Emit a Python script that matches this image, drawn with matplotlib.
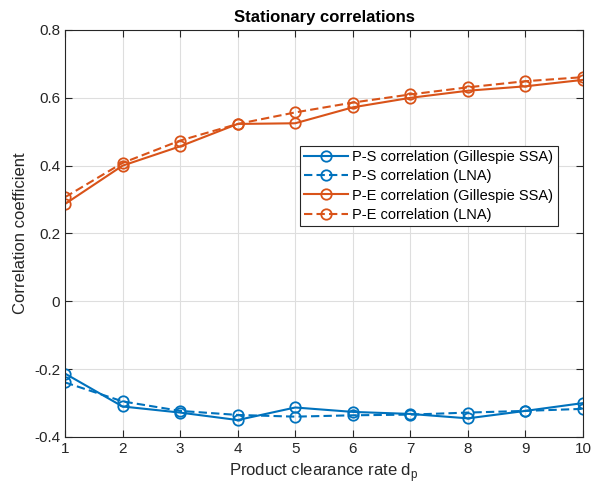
import numpy as np
import matplotlib
matplotlib.use('Agg')
import matplotlib.pyplot as plt

plt.rcParams['font.family'] = ['Liberation Sans', 'DejaVu Sans']

dp = [1, 2, 3, 4, 5, 6, 7, 8, 9, 10]
ps_ssa = [-0.213, -0.310, -0.328, -0.350, -0.313, -0.326, -0.332, -0.345, -0.323, -0.300]
ps_lna = [-0.239, -0.295, -0.323, -0.335, -0.340, -0.336, -0.334, -0.328, -0.323, -0.317]
pe_ssa = [0.287, 0.400, 0.457, 0.523, 0.525, 0.572, 0.600, 0.621, 0.634, 0.653]
pe_lna = [0.307, 0.408, 0.474, 0.523, 0.557, 0.586, 0.610, 0.631, 0.649, 0.661]

blue = (0, 0.447, 0.741)
orange = (0.85, 0.325, 0.098)

fig = plt.figure(figsize=(5.95, 4.94), dpi=100)
ax = fig.add_axes([65/595, 1 - 437/494, 518/595, 407/494])

mk = dict(marker='o', markersize=7.5, markerfacecolor='none', markeredgewidth=1.3, linewidth=1.5)
ax.plot(dp, ps_ssa, '-', color=blue, label='P-S correlation (Gillespie SSA)', **mk)
ax.plot(dp, ps_lna, '--', color=blue, dashes=(4, 2), label='P-S correlation (LNA)', **mk)
ax.plot(dp, pe_ssa, '-', color=orange, label='P-E correlation (Gillespie SSA)', **mk)
ax.plot(dp, pe_lna, '--', color=orange, dashes=(4, 2), label='P-E correlation (LNA)', **mk)

ax.set_xlim(1, 10)
ax.set_ylim(-0.4, 0.8)
ax.set_xticks(dp)
ax.set_yticks([-0.4, -0.2, 0, 0.2, 0.4, 0.6, 0.8])
ax.set_yticklabels(['-0.4', '-0.2', '0', '0.2', '0.4', '0.6', '0.8'])
ax.grid(True, color='#dedede', linewidth=0.8)
ax.set_axisbelow(True)
ax.tick_params(direction='in', top=True, right=True, labelsize=11, colors='#262626', length=5)
for s in ax.spines.values():
    s.set_color('#262626')
    s.set_linewidth(0.8)

ax.set_title('Stationary correlations', fontsize=12, fontweight='bold', color='black', pad=6)
ax.set_xlabel('Product clearance rate d$_\\mathregular{p}$', fontsize=12, color='#262626')
ax.set_ylabel('Correlation coefficient', fontsize=12, color='#262626')

leg = ax.legend(loc='upper left', bbox_to_anchor=(235/518, 1 - 116/407), fontsize=10.5,
                fancybox=False, framealpha=1, edgecolor='#262626', handlelength=3,
                borderpad=0.3, labelspacing=0.35, handletextpad=0.3, borderaxespad=0)
leg.get_frame().set_linewidth(0.8)

fig.savefig('out.png', dpi=100)
